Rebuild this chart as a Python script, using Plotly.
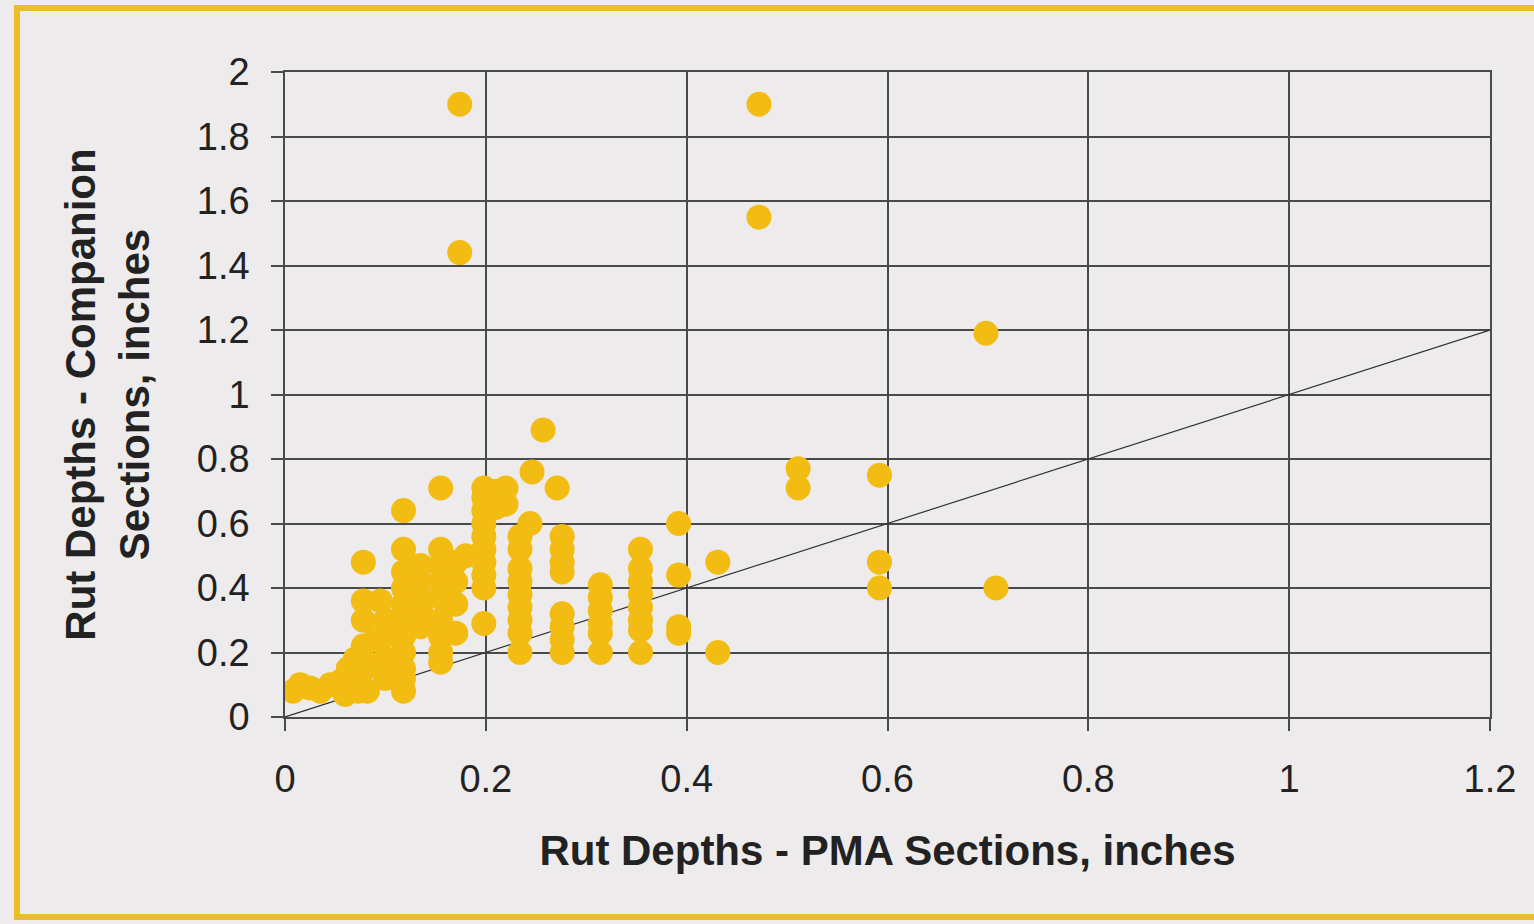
import plotly.graph_objects as go

# Rut depth pairs (inches)
pma_x = [
    0.008, 0.015, 0.025, 0.035, 0.045, 0.055, 0.060, 0.063, 0.070, 0.073, 0.075,
    0.078, 0.078, 0.078, 0.078, 0.082, 0.087, 0.090, 0.095,
    0.100, 0.100, 0.100, 0.100,
    0.118, 0.118, 0.118, 0.118, 0.118, 0.118, 0.118, 0.118, 0.118, 0.118, 0.118,
    0.135, 0.135, 0.135, 0.135, 0.135,
    0.155, 0.155, 0.155, 0.155, 0.155, 0.155, 0.155, 0.155, 0.155,
    0.170, 0.170, 0.170, 0.170, 0.180,
    0.174, 0.174,
    0.198, 0.198, 0.198, 0.198, 0.198, 0.198, 0.198, 0.198, 0.198, 0.198,
    0.210, 0.210, 0.220, 0.220,
    0.234, 0.234, 0.234, 0.234, 0.234, 0.234, 0.234, 0.234, 0.234,
    0.244, 0.246, 0.257, 0.271,
    0.276, 0.276, 0.276, 0.276, 0.276, 0.276, 0.276, 0.276,
    0.314, 0.314, 0.314, 0.314, 0.314, 0.314,
    0.354, 0.354, 0.354, 0.354, 0.354, 0.354, 0.354, 0.354,
    0.392, 0.392, 0.392, 0.392,
    0.431, 0.431,
    0.472, 0.472,
    0.511, 0.511,
    0.592, 0.592, 0.592,
    0.698, 0.708,
]
companion_y = [
    0.08, 0.10, 0.09, 0.08, 0.10, 0.11, 0.07, 0.15, 0.18, 0.08, 0.13,
    0.22, 0.30, 0.36, 0.48, 0.08, 0.16, 0.24, 0.36,
    0.30, 0.25, 0.18, 0.12,
    0.64, 0.52, 0.45, 0.40, 0.35, 0.30, 0.25, 0.20, 0.15, 0.12, 0.08,
    0.47, 0.42, 0.37, 0.33, 0.28,
    0.71, 0.52, 0.47, 0.42, 0.37, 0.30, 0.25, 0.20, 0.17,
    0.48, 0.42, 0.35, 0.26, 0.50,
    1.90, 1.44,
    0.71, 0.68, 0.64, 0.60, 0.56, 0.52, 0.48, 0.44, 0.40, 0.29,
    0.70, 0.65, 0.71, 0.66,
    0.56, 0.52, 0.46, 0.42, 0.38, 0.34, 0.30, 0.26, 0.20,
    0.60, 0.76, 0.89, 0.71,
    0.56, 0.52, 0.48, 0.45, 0.32, 0.28, 0.24, 0.20,
    0.41, 0.37, 0.33, 0.29, 0.26, 0.20,
    0.52, 0.46, 0.42, 0.38, 0.34, 0.30, 0.27, 0.20,
    0.60, 0.44, 0.28, 0.26,
    0.48, 0.20,
    1.90, 1.55,
    0.77, 0.71,
    0.75, 0.48, 0.40,
    1.19, 0.40,
]

equality_x = [0, 1.2]
equality_y = [0, 1.2]

x_ticks = [0, 0.2, 0.4, 0.6, 0.8, 1, 1.2]
x_tick_labels = ["0", "0.2", "0.4", "0.6", "0.8", "1", "1.2"]
y_ticks = [0, 0.2, 0.4, 0.6, 0.8, 1, 1.2, 1.4, 1.6, 1.8, 2]
y_tick_labels = ["0", "0.2", "0.4", "0.6", "0.8", "1", "1.2", "1.4", "1.6", "1.8", "2"]

W, H = 1534, 924
L, R, T, B = 285, 44, 72, 207

def px(xp):
    return (xp - L) / (W - L - R)

def py(yp):
    return (H - B - yp) / (H - T - B)

fig = go.Figure()
fig.add_trace(go.Scatter(
    x=equality_x, y=equality_y, mode="lines",
    line=dict(color="#333333", width=1.2), showlegend=False, hoverinfo="skip"))
fig.add_trace(go.Scatter(
    x=pma_x, y=companion_y, mode="markers",
    marker=dict(color="#F2BC12", size=25, line=dict(width=0)),
    showlegend=False))

grid = "#4a4a4a"
font_fam = "Liberation Sans, Arial, sans-serif"
fig.update_xaxes(
    range=[0, 1.2], tickvals=x_ticks, ticktext=x_tick_labels,
    showgrid=True, gridcolor=grid, gridwidth=1.5, zeroline=False,
    showline=True, linecolor=grid, linewidth=1.5, mirror=True,
    ticks="outside", ticklen=12, tickcolor=grid, tickwidth=1.5,
    ticklabelstandoff=16,
    tickfont=dict(family=font_fam, size=38, color="#222222"),
    title=dict(text="<b>Rut Depths - PMA Sections, inches</b>", standoff=36,
               font=dict(family=font_fam, size=42, color="#222222")),
)
fig.update_yaxes(
    range=[0, 2], tickvals=y_ticks, ticktext=y_tick_labels,
    showgrid=True, gridcolor=grid, gridwidth=1.5, zeroline=False,
    showline=True, linecolor=grid, linewidth=1.5, mirror=True,
    ticks="outside", ticklen=12, tickcolor=grid, tickwidth=1.5,
    ticklabelstandoff=14,
    tickfont=dict(family=font_fam, size=38, color="#222222"),
    title=dict(text="<b>Rut Depths - Companion<br>Sections, inches</b>", standoff=34,
               font=dict(family=font_fam, size=42, color="#222222")),
)

frame = "#E9BE26"
fig.add_shape(type="line", xref="paper", yref="paper",
              x0=px(17), x1=px(17), y0=py(8), y1=py(917),
              line=dict(color=frame, width=6))
fig.add_shape(type="line", xref="paper", yref="paper",
              x0=px(14), x1=px(1540), y0=py(8), y1=py(8),
              line=dict(color=frame, width=6))
fig.add_shape(type="line", xref="paper", yref="paper",
              x0=px(14), x1=px(1540), y0=py(917), y1=py(917),
              line=dict(color=frame, width=6))

fig.update_layout(
    width=W, height=H,
    margin=dict(l=L, r=R, t=T, b=B),
    paper_bgcolor="#EEEBEC", plot_bgcolor="#EEEBEC",
    font=dict(family=font_fam),
)

fig.write_html("out.html")
